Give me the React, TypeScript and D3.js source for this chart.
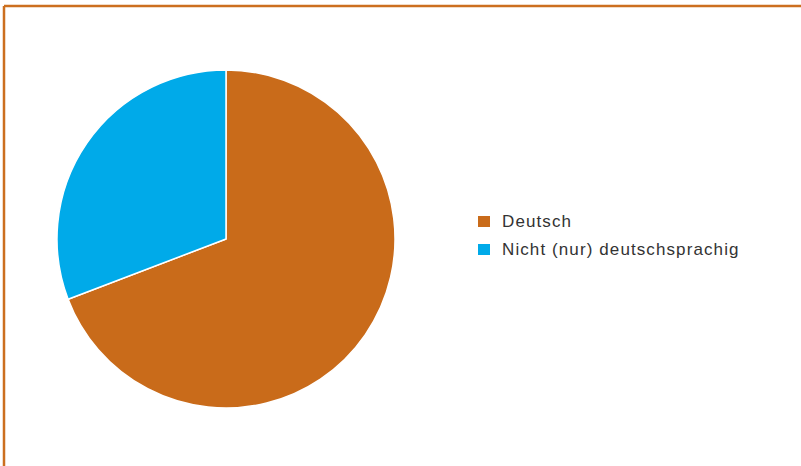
import React from "react";
import * as d3 from "d3";

const categories = ["Deutsch", "Nicht (nur) deutschsprachig"];
const values = [69.2, 30.8];
const colors = ["#C96B1A", "#00AAE9"];

export default function App() {
  const W = 801, H = 466;
  const cx = 226, cy = 239, r = 169;
  const pie = d3.pie<number>().sort(null).value((d) => d);
  const arcs = pie(values);
  const arc = d3.arc<d3.PieArcDatum<number>>().innerRadius(0).outerRadius(r);
  return (
    <svg width={W} height={H} style={{ position: "absolute", left: 0, top: 0 }}>
      <rect x={0} y={0} width={W} height={H} fill="#fff" />
      <line x1={4} y1={6} x2={W} y2={6} stroke="#CC6F1F" strokeWidth={2.5} />
      <line x1={4} y1={6} x2={4} y2={H} stroke="#CC6F1F" strokeWidth={2.5} />
      <g transform={`translate(${cx},${cy})`}>
        {arcs.map((a, i) => (
          <path key={i} d={arc(a) || ""} fill={colors[i]} stroke="#fff" strokeWidth={1.5} strokeLinejoin="round" />
        ))}
      </g>
      <g fontFamily="'Liberation Sans', Arial, sans-serif" fontSize={17} fill="#333" letterSpacing={1.1}>
        {categories.map((c, i) => (
          <g key={c} transform={`translate(478,${215 + i * 28})`}>
            <rect x={0} y={1} width={12} height={11} fill={colors[i]} />
            <text x={24} y={12}>{c}</text>
          </g>
        ))}
      </g>
    </svg>
  );
}
